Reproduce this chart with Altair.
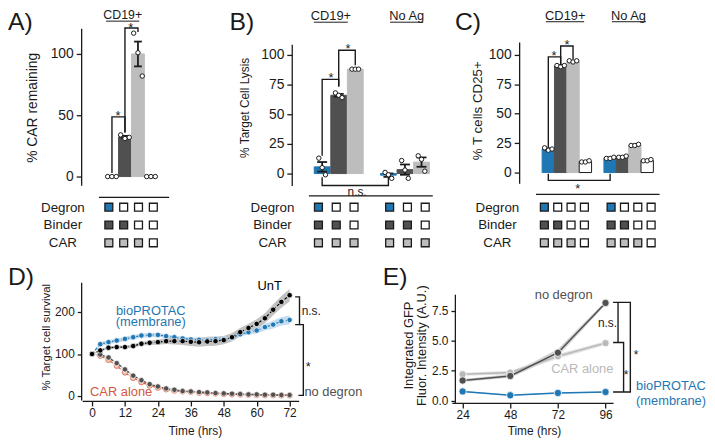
import altair as alt
import pandas as pd

FONT = "Liberation Sans"
INK = "#1a1a1a"
BLUE = "#1f77b4"
DARK = "#505050"
LIGHT = "#bdbdbd"
RED = "#d4583c"
M = 8          # page margin
W, H = 707, 432

# ------------------------------------------------------------------ data
MATRIX_ROWS = ["Degron", "Binder", "CAR"]
COND_DOMAIN = ["Degron+Binder+CAR", "Binder+CAR", "CAR", "none"]

# A) % CAR remaining (CD19+)
A_CONDS = ["Degron+Binder+CAR", "Binder+CAR", "CAR", "none"]
A_REPS = [[0, 0, 0], [34, 31, 32], [117, 101, 82], [0, 0, 0]]

# B) % target cell lysis
B_GROUPS = ["CD19+", "No Ag"]
B_CONDS = ["Degron+Binder+CAR", "Binder+CAR", "CAR"]
B_REPS_CD19 = [[13, 5, -1], [68, 66, 64], [88, 88, 88]]
B_REPS_NOAG = [[1, -1, -4], [11, 3, -4], [15, 12, 2]]

# C) % T cells CD25+
C_GROUPS = ["CD19+", "No Ag"]
C_CONDS = ["Degron+Binder+CAR", "Binder+CAR", "CAR", "none"]
C_REPS_CD19 = [[21, 19, 20], [91, 90, 91], [95, 94, 95], [9, 9, 10]]
C_REPS_NOAG = [[12, 12, 13], [13, 13, 14], [23, 23, 24], [10, 10, 11]]

# D) % target cell survival over time
D_TIME = [0, 3, 6, 9, 12, 15, 18, 21, 24, 27, 30, 33, 36, 39, 42, 45, 48, 51, 54, 57, 60, 63, 66, 69, 72]
D_UNT = [100, 108.6, 115, 116.5, 116.5, 119, 124.5, 126.7, 128.3, 130.6, 130.6, 130.6, 129,
         128, 129.8, 130.6, 133, 140, 152, 162, 171.8, 185, 205.5, 224, 240]
D_UNT_SD = [0, 3, 3, 3, 3, 4, 4, 5, 6, 7, 8, 9, 10, 11, 11, 11, 10, 10, 10, 10, 11, 12, 13, 14, 15]
D_BIO = [100, 123.5, 128.3, 132, 136, 140, 144, 145, 145.5, 142.5, 140, 137, 134.7, 133.8,
         133, 135.3, 135.3, 138.4, 147, 152, 156, 164, 170, 178, 181]
D_BIO_SD = [0, 5, 5, 5, 5, 5, 5, 5, 5, 4, 4, 4, 4, 4, 4, 4, 4, 4, 5, 6, 7, 8, 9, 10, 10]
D_NODEG = [100, 98.8, 91.8, 78.4, 63.5, 48.6, 37.6, 28.2, 22.7, 18, 14.9, 11.8, 11, 9.4,
           8.6, 7, 6.3, 5.5, 4.7, 3.9, 3.9, 3.1, 3.1, 2.4, 2.4]
D_NODEG_SD = [0, 2, 2, 2, 2, 2, 2, 2, 2, 2, 2, 2, 2, 2, 2, 2, 2, 2, 2, 2, 2, 2, 2, 2, 2]
D_CAR = [100, 96, 86, 72, 56, 43, 33, 25, 20, 16, 13, 11, 10, 8, 7, 6, 5, 4, 3.5, 3, 2.5,
         2, 2, 1.5, 1.5]
D_CAR_SD = [0, 2, 2, 2, 2, 2, 2, 2, 2, 2, 2, 2, 2, 2, 2, 2, 2, 2, 2, 2, 2, 2, 2, 2, 2]

# E) integrated GFP intensity
E_TIME = [24, 48, 72, 96]
E_NODEG = [1.68, 2.06, 4.0, 8.15]
E_NODEG_SD = [0.12, 0.15, 0.3, 0.15]
E_CAR = [2.2, 2.34, 3.7, 4.8]
E_CAR_SD = [0.12, 0.15, 0.2, 0.15]
E_BIO = [0.77, 0.45, 0.64, 0.72]
E_BIO_SD = [0.04, 0.04, 0.04, 0.04]
E_YTITLE = ["Integrated GFP", "Fluor. Intensity (A.U.)"]


# ------------------------------------------------------------------ helpers
def sc(d0, d1, p0, p1):
    return alt.Scale(domain=[d0, d1], range=[p0 - M, p1 - M], nice=False, zero=False)


def left_axis(at, values, title, tsize, tx, ty, lsize=14, fmt=None, tick=5, pad=3):
    kw = dict(orient="left", offset=-(at - M), values=values, labelFontSize=lsize,
              tickSize=tick, labelPadding=pad, grid=False)
    if title:
        kw.update(title=title, titleFontSize=tsize, titleFontWeight="normal", titleX=tx - at,
                  titleY=ty - M, titleAngle=270, titleAlign="center", titleBaseline="middle")
    else:
        kw["title"] = None
    if fmt:
        kw["format"] = fmt
    return alt.Axis(**kw)


def bottom_axis(at, values, title, tx, ty):
    return alt.Axis(orient="bottom", offset=(at - M) - H, values=values, title=title,
                    titleX=tx - M, titleY=ty - at, titleAlign="center", titleBaseline="middle",
                    titleFontSize=12, titleFontWeight="normal", labelFontSize=12,
                    tickSize=5, labelPadding=2, labelFlush=False, grid=False)


def bar_frame(groups, conds, gap):
    out = []
    for gi, reps_list in enumerate(groups):
        for ci, (cond, reps) in enumerate(zip(conds, reps_list)):
            slot = gi * (len(conds) + gap) + ci
            for r, v in enumerate(reps):
                out.append({"slot": slot, "rep": r, "v": v, "cond": cond})
    return pd.DataFrame(out)


def matrix_frame(ngroups, conds, gap):
    out = []
    for gi in range(ngroups):
        for ci, cond in enumerate(conds):
            slot = gi * (len(conds) + gap) + ci
            for row in MATRIX_ROWS:
                out.append({"slot": slot, "row": row,
                            "cell": row if row in cond.split("+") else "absent"})
    return pd.DataFrame(out)


def poly_frame(polys):
    out = []
    for i, pts in enumerate(polys):
        for k, (a, b) in enumerate(pts):
            out.append({"id": i, "k": k, "p": a, "v": b})
    return pd.DataFrame(out)


def text_layer(rows, xs, ys, yaxis, size=13, color=INK, align="center", baseline="alphabetic"):
    df = pd.DataFrame(rows, columns=["p", "v", "label"])
    return alt.Chart(df).mark_text(fontSize=size, color=color, align=align,
                                   baseline=baseline).encode(
        x=alt.X("p:Q", scale=xs, axis=None), y=alt.Y("v:Q", scale=ys, axis=yaxis), text="label:N")


def rule_layer(rows, xs, ys, yaxis, width=1.3):
    df = pd.DataFrame(rows, columns=["p", "p2", "v"])
    return alt.Chart(df).mark_rule(color=INK, strokeWidth=width).encode(
        x=alt.X("p:Q", scale=xs, axis=None), x2="p2:Q", y=alt.Y("v:Q", scale=ys, axis=yaxis))


def line_layer(polys, xs, ys, yaxis, width=1.4):
    return alt.Chart(poly_frame(polys)).mark_line(color=INK, strokeWidth=width).encode(
        x=alt.X("p:Q", scale=xs, axis=None), y=alt.Y("v:Q", scale=ys, axis=yaxis),
        detail="id:N", order="k:Q")


def top_panel(df, xs, ys, yaxis, bar_w, jit, cap, brackets, stars, headers, underlines,
              separator, header_size=13, extra=None):
    X = alt.X("slot:Q", scale=xs, axis=None)
    base = alt.Chart(df)
    bars = base.mark_bar(size=bar_w, strokeWidth=1).encode(
        x=X, y=alt.Y("mean(v):Q", scale=ys, axis=yaxis), y2=alt.datum(0),
        fill=alt.Fill("cond:N", scale=alt.Scale(domain=COND_DOMAIN,
                                                range=[BLUE, DARK, LIGHT, "white"]), legend=None),
        stroke=alt.Stroke("cond:N", scale=alt.Scale(domain=COND_DOMAIN,
                                                    range=[BLUE, DARK, LIGHT, INK]), legend=None))
    err = (base.transform_aggregate(m="mean(v)", se="stderr(v)", groupby=["slot"])
           .transform_filter("datum.se > 0")
           .transform_calculate(lo="datum.m - datum.se", hi="datum.m + datum.se",
                                a=f"datum.slot - {cap}", b=f"datum.slot + {cap}"))
    stem = err.mark_rule(color=INK, strokeWidth=1.8).encode(
        x=X, y=alt.Y("lo:Q", scale=ys, axis=yaxis), y2="hi:Q")
    caps = [err.mark_rule(color=INK, strokeWidth=1.8).encode(
        x=alt.X("a:Q", scale=xs, axis=None), x2="b:Q", y=alt.Y(f"{f}:Q", scale=ys, axis=yaxis))
        for f in ("lo", "hi")]
    pts = base.transform_calculate(xj=f"datum.slot + (datum.rep - 1) * {jit}").mark_circle(
        size=20, fill="white", stroke=INK, strokeWidth=1, opacity=1).encode(
        x=alt.X("xj:Q", scale=xs, axis=None), y=alt.Y("v:Q", scale=ys, axis=yaxis))
    layers = [bars, stem] + caps + [pts,
              line_layer(brackets, xs, ys, yaxis),
              text_layer(stars, xs, ys, yaxis, size=13),
              text_layer(headers, xs, ys, yaxis, size=header_size),
              rule_layer(underlines, xs, ys, yaxis, width=1),
              rule_layer(separator, xs, ys, yaxis, width=1.3)]
    if extra is not None:
        layers.append(extra)
    return alt.layer(*layers)


def matrix_panel(df, xs, label_x):
    return alt.Chart(df).mark_square(size=64, stroke=INK, strokeWidth=1.3, opacity=1).encode(
        x=alt.X("slot:Q", scale=xs, axis=None),
        y=alt.Y("row:N", scale=alt.Scale(type="point", domain=MATRIX_ROWS,
                                         range=[207 - M, 243 - M], padding=0),
                axis=alt.Axis(orient="left", offset=-(label_x - M), domain=False, ticks=False,
                              tickSize=0, labelPadding=0, labelAlign="center",
                              labelFontSize=13.5, title=None, grid=False)),
        fill=alt.Fill("cell:N", scale=alt.Scale(domain=MATRIX_ROWS + ["absent"],
                                                range=[BLUE, DARK, LIGHT, "white"]), legend=None))


# ------------------------------------------------------------------ panel A
xsA = sc(-1, 4.4, 95, 176)
ysA = sc(-7, 121, 184.7, 26.0)
axA = left_axis(82, [0, 50, 100], "% CAR remaining", 14, 33, 106)
panelA = top_panel(
    bar_frame([A_REPS], A_CONDS, 1), xsA, ysA, axA, 13, 0.33, 0.3,
    brackets=[[(0, 3), (0, 48.7), (1, 48.7), (1, 36)],
              [(1, 36), (1, 121.2), (2, 121.2), (2, 118)]],
    stars=[(0.47, 46, "*"), (1.45, 118.0, "*")],
    headers=[(0.83, 128.2, "CD19+")],
    underlines=[(-0.45, 2.1, 126.8)],
    separator=[(-1, 4.4, -16.9)],
    header_size=12.5)
matA = matrix_panel(matrix_frame(1, A_CONDS, 1), xsA, 63)

# ------------------------------------------------------------------ panel B
xsB = sc(-1, 7, 304, 448)
ysB = sc(-10, 109, 185, 42.2)
axB = left_axis(295, [0, 25, 50, 75, 100], "% Target Cell Lysis", 12, 247, 106)
panelB = top_panel(
    bar_frame([B_REPS_CD19, B_REPS_NOAG], B_CONDS, 1), xsB, ysB, axB, 16, 0.2, 0.3,
    brackets=[[(0, 15), (0, 79.4), (1, 79.4), (1, 73.3)],
              [(1, 73.3), (1, 103.9), (2, 103.9), (2, 91.4)],
              [(0, -3), (0, -10), (4, -10), (4, -3)]],
    stars=[(0.54, 77.5, "*"), (1.56, 101.3, "*")],
    headers=[(0.53, 129.5, "CD19+"), (5.11, 129.5, "No Ag")],
    underlines=[(-0.5, 1.55, 127.6), (4.1, 6.1, 127.6)],
    separator=[(-0.8, 6.68, -18.75)],
    extra=text_layer([(2.11, -15.6, "n.s.")], xsB, ysB, axB, size=12, baseline="middle"))
matB = matrix_panel(matrix_frame(2, B_CONDS, 1), xsB, 275)

# ------------------------------------------------------------------ panel C
xsC = sc(-1, 9, 537, 672)
ysC = sc(-9.2, 110.9, 182.9, 40.0)
axC = left_axis(525, [0, 25, 50, 75, 100], "% T cells CD25+", 13.5, 483, 109)
panelC = top_panel(
    bar_frame([C_REPS_CD19, C_REPS_NOAG], C_CONDS, 1), xsC, ysC, axC, 12.5, 0.3, 0.3,
    brackets=[[(0, 21.3), (0, 98.3), (1, 98.3), (1, 91.3)],
              [(1, 91.3), (1, 107.6), (2, 107.6), (2, 96.4)],
              [(0, -1), (0, -6.7), (5, -6.7), (5, -1)]],
    stars=[(0.46, 96, "*"), (1.52, 105, "*"), (2.38, -17.1, "*")],
    headers=[(1.37, 129.8, "CD19+"), (6.48, 129.8, "No Ag")],
    underlines=[(-0.2, 2.9, 128.2), (5.15, 7.9, 128.2)],
    separator=[(-1.0, 9.0, -18.5)])
matC = matrix_panel(matrix_frame(2, C_CONDS, 1), xsC, 502.5)

# ------------------------------------------------------------------ panel D
xsD = sc(-3.6, 75.3, 83, 302)
ysD = sc(-9.4, 270.6, 402, 283)
axDy = left_axis(82, [0, 100, 200], "% Target cell survival", 11.5, 46.7, 338,
                 lsize=12, tick=4, pad=3)
axDx = bottom_axis(403, [0, 12, 24, 36, 48, 60, 72], "Time (hrs)", 197, 432.7)

D_SERIES = [("UnT", D_UNT, D_UNT_SD), ("bioPROTAC", D_BIO, D_BIO_SD),
            ("no degron", D_NODEG, D_NODEG_SD), ("CAR alone", D_CAR, D_CAR_SD)]
dD = pd.DataFrame([{"t": t, "v": v, "sd": s, "series": name}
                   for name, vals, sds in D_SERIES for t, v, s in zip(D_TIME, vals, sds)])
baseD = alt.Chart(dD).transform_calculate(lo="datum.v - datum.sd", hi="datum.v + datum.sd")
XD = alt.X("t:Q", scale=xsD, axis=axDx)
d_layers = []
for name, band in [("UnT", "#a6a6a6"), ("bioPROTAC", "#a9cdea"),
                   ("no degron", "#c4c4c4"), ("CAR alone", "#f1c0b2")]:
    d_layers.append(baseD.transform_filter(alt.datum.series == name).mark_area(
        color=band, opacity=0.7).encode(x=XD, y=alt.Y("lo:Q", scale=ysD, axis=axDy), y2="hi:Q"))
for name, col, fill in [("CAR alone", RED, "#f3c4b6"), ("no degron", DARK, DARK),
                        ("bioPROTAC", BLUE, BLUE), ("UnT", "#000000", "#000000")]:
    f = baseD.transform_filter(alt.datum.series == name)
    d_layers.append(f.mark_line(color=col, strokeWidth=1.2, strokeDash=[3, 2]).encode(
        x=XD, y=alt.Y("v:Q", scale=ysD, axis=axDy)))
    d_layers.append(f.mark_circle(size=30, fill=fill, stroke=("white" if name != "CAR alone" else RED),
                                  strokeWidth=0.7, opacity=1).encode(
        x=XD, y=alt.Y("v:Q", scale=ysD, axis=axDy)))


def d_text(rows, **kw):
    df = pd.DataFrame(rows, columns=["t", "v", "label"])
    return alt.Chart(df).mark_text(**kw).encode(
        x=XD, y=alt.Y("v:Q", scale=ysD, axis=axDy), text="label:N")


d_layers += [
    alt.Chart(poly_frame([[(74, 236), (75.6, 236), (75.6, 170), (74, 170)],
                          [(75.6, 170), (77, 170), (77, 1.6), (75.2, 1.6)]]))
    .mark_line(color=INK, strokeWidth=1.4).encode(
        x=alt.X("p:Q", scale=xsD, axis=axDx), y=alt.Y("v:Q", scale=ysD, axis=axDy),
        detail="id:N", order="k:Q"),
    d_text([(64.7, 262, "UnT")], fontSize=13, color="#000000", baseline="middle"),
    d_text([(21.4, 203, "bioPROTAC"), (21.4, 175.8, "(membrane)")], fontSize=13, color=BLUE,
           baseline="middle"),
    d_text([(10.6, 8.6, "CAR alone")], fontSize=13, color=RED, baseline="middle"),
    d_text([(77.4, 8.6, "no degron")], fontSize=13, color=DARK, baseline="middle", align="left"),
    d_text([(76.4, 203, "n.s.")], fontSize=12, color=INK, baseline="middle", align="left"),
    d_text([(78.8, 68.2, "*")], fontSize=13, color=INK),
]
panelD = alt.layer(*d_layers)

# ------------------------------------------------------------------ panel E
xsE = sc(18.6, 99.8, 457, 620)
ysE = sc(-0.15, 8.88, 404.5, 295)
axEy = left_axis(460, [0, 2.5, 5, 7.5], None, 13, 0, 0, lsize=12, fmt=".1f", tick=4, pad=3)
axEx = bottom_axis(405, [24, 48, 72, 96], "Time (hrs)", 540, 432.7)
XE = alt.X("t:Q", scale=xsE, axis=axEx)
E_SERIES = [("no degron", E_NODEG, E_NODEG_SD), ("CAR alone", E_CAR, E_CAR_SD),
            ("bioPROTAC", E_BIO, E_BIO_SD)]
dE = pd.DataFrame([{"t": t, "v": v, "sd": s, "series": name}
                   for name, vals, sds in E_SERIES for t, v, s in zip(E_TIME, vals, sds)])
baseE = alt.Chart(dE).transform_calculate(lo="datum.v - datum.sd", hi="datum.v + datum.sd")
e_layers = []
for name, band in [("no degron", "#c8c8c8"), ("CAR alone", "#dcdcdc"), ("bioPROTAC", "#a9cdea")]:
    e_layers.append(baseE.transform_filter(alt.datum.series == name).mark_area(
        color=band, opacity=0.8).encode(x=XE, y=alt.Y("lo:Q", scale=ysE, axis=axEy), y2="hi:Q"))
for name, col in [("CAR alone", "#b9b9b9"), ("no degron", DARK), ("bioPROTAC", BLUE)]:
    f = baseE.transform_filter(alt.datum.series == name)
    e_layers.append(f.mark_line(color=col, strokeWidth=1.6).encode(
        x=XE, y=alt.Y("v:Q", scale=ysE, axis=axEy)))
    e_layers.append(f.mark_circle(size=55, fill=col, stroke="white", strokeWidth=0.8,
                                  opacity=1).encode(x=XE, y=alt.Y("v:Q", scale=ysE, axis=axEy)))


def e_text(rows, **kw):
    df = pd.DataFrame(rows, columns=["t", "v", "label"])
    return alt.Chart(df).mark_text(**kw).encode(
        x=XE, y=alt.Y("v:Q", scale=ysE, axis=axEy), text="label:N")


e_layers += [
    alt.Chart(poly_frame([[(99.8, 8.2), (108.5, 8.2), (108.5, 0.72), (99.8, 0.72)],
                          [(102.3, 8.2), (102.3, 4.85)],
                          [(99.8, 4.85), (105.1, 4.85), (105.1, 0.72)]]))
    .mark_line(color=INK, strokeWidth=1.4).encode(
        x=alt.X("p:Q", scale=xsE, axis=axEx), y=alt.Y("v:Q", scale=ysE, axis=axEy),
        detail="id:N", order="k:Q"),
    e_text([(74.9, 8.8, "no degron")], fontSize=13, color=DARK, baseline="middle"),
    e_text([(84.3, 2.64, "CAR alone")], fontSize=13, color="#b9b9b9", baseline="middle"),
    e_text([(111.4, 1.19, "bioPROTAC"), (111.4, -0.05, "(membrane)")], fontSize=13, color=BLUE,
           baseline="middle", align="left"),
    e_text([(101.8, 6.5, "n.s.")], fontSize=12, color=INK, baseline="middle", align="right"),
    e_text([(106.4, 2.15, "*"), (111.4, 3.82, "*")], fontSize=12, color=INK),
]
panelE = alt.layer(*e_layers)


# ------------------------------------------------------------------ titles / panel letters
def fixed_text(txt, x, y, size, angle=0, align="left", baseline="alphabetic"):
    kw = dict(fontSize=size, align=align, baseline=baseline, color=INK)
    if angle:
        kw["angle"] = angle
    return alt.Chart(pd.DataFrame({"label": [txt]})).mark_text(**kw).encode(
        x=alt.value(max(0, x - M)), y=alt.value(y - M), text="label:N")


decor = [fixed_text("A)", 2, 27.5, 25), fixed_text("B)", 232, 27.5, 25),
         fixed_text("C)", 460, 27.5, 25), fixed_text("D)", 3, 286, 25),
         fixed_text("E)", 387, 286, 25),
         fixed_text(E_YTITLE[0], 413.5, 347, 13, angle=270, align="center", baseline="middle"),
         fixed_text(E_YTITLE[1], 426.5, 347, 13, angle=270, align="center", baseline="middle")]

chart = (
    alt.layer(panelA, matA, panelB, matB, panelC, matC, panelD, panelE, *decor)
    .resolve_scale(x="independent", y="independent", fill="independent",
                   stroke="independent", color="independent")
    .properties(width=W, height=H, autosize=alt.AutoSizeParams(type="none"), padding=0)
    .configure(font=FONT)
    .configure_view(stroke=None)
    .configure_axis(grid=False, domainColor=INK, tickColor=INK, labelColor=INK,
                    titleColor=INK, domainWidth=1.3, tickWidth=1.3, labelFont=FONT,
                    titleFont=FONT)
)

chart.save("out.html", embed_options={"renderer": "svg", "actions": False})
